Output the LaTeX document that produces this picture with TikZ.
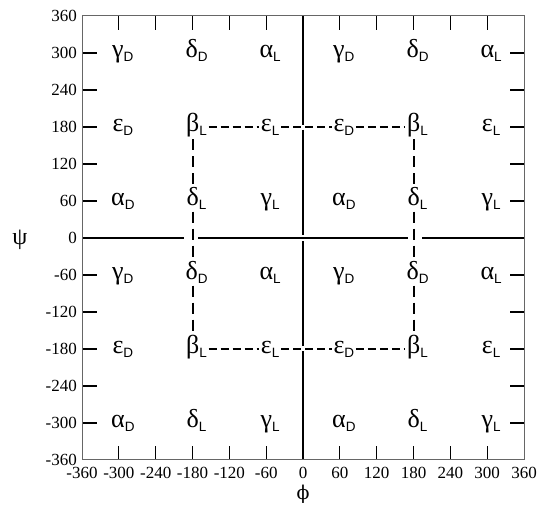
\documentclass[tikz,border=0pt]{standalone}
\usepackage{fontspec}
\setmainfont{Liberation Serif}
\newfontfamily\serfam{Liberation Serif}
\newfontfamily\subfam{Liberation Sans}
\newfontfamily\dvsfam{DejaVu Serif}
\newcommand\subfnt{\subfam\fontsize{13.5}{13.5}\selectfont}
\newcommand\lbl[2]{#1\raisebox{-4pt}{\subfnt #2}}
\tikzset{
  lab/.style={anchor=base, inner sep=1.5pt, font=\serfam\fontsize{26}{26}\selectfont, xshift=4pt, yshift=-5pt},
  ticklab/.style={inner sep=0pt, text height=11pt, text depth=0pt, font=\serfam\fontsize{17}{17}\selectfont},
  axisline/.style={line width=2.7pt},
  recth/.style={line width=2pt, dash pattern=on 8pt off 4pt},
  rectv/.style={line width=2pt, dash pattern=on 11pt off 6pt},
  frame/.style={line width=1pt, draw=black!60},
  thicktick/.style={line width=2.5pt},
  thintick/.style={line width=1pt}
}
\begin{document}
\begin{tikzpicture}[x=0.6139pt, y=0.6167pt]
\useasboundingbox (-493.6,-434.6) rectangle (382.8,385.9);
% reference coordinates for the dashed rectangle
\coordinate (rtop) at (0,180);
\coordinate (rbot) at (0,-180);
\coordinate (cleft) at (-180,0);
\coordinate (cright) at (180,0);
% axis lines
\draw[axisline] (-360,0) -- (-194,0);
\draw[axisline] (-171,0) -- (171,0);
\draw[axisline] (194,0) -- (360,0);
\draw[axisline] (0,360) -- (0,184);
\draw[axisline] (0,175.5) -- (0,5);
\draw[axisline] (0,-5) -- (0,-175.5);
\draw[axisline] (0,-184) -- (0,-360);
% ticks
\foreach \v in {-300,-240,-180,-120,-60,60,120,180,240,300}{
  \draw[thicktick] (-360,\v) -- ++(15pt,0);
  \draw[thicktick] (360,\v) -- ++(-14pt,0);
  \draw[thintick] (\v,360) -- ++(0,-14pt);
  \draw[thintick] (\v,-360) -- ++(0,14pt);
}
\draw[frame] (-360,-360) rectangle (360,360);
% tick labels
\foreach \v in {-360,-300,-240,-180,-120,-60,0,60,120,180,240,300,360}{
  \node[ticklab, anchor=east, xshift=-5pt] (yl\v) at (-360,\v) {\v};
  \node[ticklab, anchor=north, yshift=-7.5pt] (xl\v) at (\v,-360) {\v};
}
\node[font=\dvsfam\fontsize{19}{19}\selectfont, inner sep=0pt] (phi) at (0,-415) {ϕ};
\node[font=\serfam\fontsize{24}{24}\selectfont, inner sep=0pt] (psi) at (-461,-3) {ψ};
% region labels
\node[lab] (n11) at (-300,300) {\lbl{γ}{D}};
\node[lab] (n12) at (-180,300) {\lbl{δ}{D}};
\node[lab] (n13) at (-60,300) {\lbl{α}{L}};
\node[lab] (n14) at (60,300) {\lbl{γ}{D}};
\node[lab] (n15) at (180,300) {\lbl{δ}{D}};
\node[lab] (n16) at (300,300) {\lbl{α}{L}};
\node[lab] (n21) at (-300,180) {\lbl{ε}{D}};
\node[lab] (n22) at (-180,180) {\lbl{β}{L}};
\node[lab] (n23) at (-60,180) {\lbl{ε}{L}};
\node[lab] (n24) at (60,180) {\lbl{ε}{D}};
\node[lab] (n25) at (180,180) {\lbl{β}{L}};
\node[lab] (n26) at (300,180) {\lbl{ε}{L}};
\node[lab] (n31) at (-300,60) {\lbl{α}{D}};
\node[lab] (n32) at (-180,60) {\lbl{δ}{L}};
\node[lab] (n33) at (-60,60) {\lbl{γ}{L}};
\node[lab] (n34) at (60,60) {\lbl{α}{D}};
\node[lab] (n35) at (180,60) {\lbl{δ}{L}};
\node[lab] (n36) at (300,60) {\lbl{γ}{L}};
\node[lab] (n41) at (-300,-60) {\lbl{γ}{D}};
\node[lab] (n42) at (-180,-60) {\lbl{δ}{D}};
\node[lab] (n43) at (-60,-60) {\lbl{α}{L}};
\node[lab] (n44) at (60,-60) {\lbl{γ}{D}};
\node[lab] (n45) at (180,-60) {\lbl{δ}{D}};
\node[lab] (n46) at (300,-60) {\lbl{α}{L}};
\node[lab] (n51) at (-300,-180) {\lbl{ε}{D}};
\node[lab] (n52) at (-180,-180) {\lbl{β}{L}};
\node[lab] (n53) at (-60,-180) {\lbl{ε}{L}};
\node[lab] (n54) at (60,-180) {\lbl{ε}{D}};
\node[lab] (n55) at (180,-180) {\lbl{β}{L}};
\node[lab] (n56) at (300,-180) {\lbl{ε}{L}};
\node[lab] (n61) at (-300,-300) {\lbl{α}{D}};
\node[lab] (n62) at (-180,-300) {\lbl{δ}{L}};
\node[lab] (n63) at (-60,-300) {\lbl{γ}{L}};
\node[lab] (n64) at (60,-300) {\lbl{α}{D}};
\node[lab] (n65) at (180,-300) {\lbl{δ}{L}};
\node[lab] (n66) at (300,-300) {\lbl{γ}{L}};
% dashed rectangle
\draw[recth] (n22.east |- rtop) -- (n23.west |- rtop);
\draw[recth] (n23.east |- rtop) -- (n24.west |- rtop);
\draw[recth] (n24.east |- rtop) -- (n25.west |- rtop);
\draw[recth] (n52.east |- rbot) -- (n53.west |- rbot);
\draw[recth] (n53.east |- rbot) -- (n54.west |- rbot);
\draw[recth] (n54.east |- rbot) -- (n55.west |- rbot);
\draw[rectv] (cleft |- n22.south) -- (cleft |- n32.north);
\draw[rectv] (cleft |- n32.south) -- (cleft |- n42.north);
\draw[rectv] (cleft |- n42.south) -- (cleft |- n52.north);
\draw[rectv] (cright |- n25.south) -- (cright |- n35.north);
\draw[rectv] (cright |- n35.south) -- (cright |- n45.north);
\draw[rectv] (cright |- n45.south) -- (cright |- n55.north);
\end{tikzpicture}
\end{document}
